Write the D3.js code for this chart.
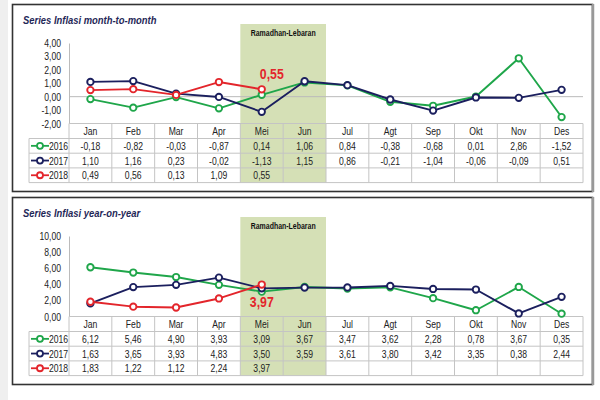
<!DOCTYPE html>
<html>
<head>
<meta charset="utf-8">
<script src="https://cdn.jsdelivr.net/npm/d3@7"></script>
<style>
  html, body { margin: 0; padding: 0; background: #fff; }
  svg text { font-family: "Liberation Sans", Arial, sans-serif; }
</style>
</head>
<body>
<svg id="chart" width="600" height="400"></svg>
<script>
const months = ["Jan","Feb","Mar","Apr","Mei","Jun","Jul","Agt","Sep","Okt","Nov","Des"];
const seriesNames = ["2016","2017","2018"];
const mtm2016 = [-0.18,-0.82,-0.03,-0.87,0.14,1.06,0.84,-0.38,-0.68,0.01,2.86,-1.52];
const mtm2017 = [1.10,1.16,0.23,-0.02,-1.13,1.15,0.86,-0.21,-1.04,-0.06,-0.09,0.51];
const mtm2018 = [0.49,0.56,0.13,1.09,0.55];
const yoy2016 = [6.12,5.46,4.90,3.93,3.09,3.67,3.47,3.62,2.28,0.78,3.67,0.35];
const yoy2017 = [1.63,3.65,3.93,4.83,3.50,3.59,3.61,3.80,3.42,3.35,0.38,2.44];
const yoy2018 = [1.83,1.22,1.12,2.24,3.97];
const mtmTicks = [-2,-1,0,1,2,3,4];
const yoyTicks = [0,2,4,6,8,10];
const shadeMonths = ["Mei","Jun"];
const shadeLabel = "Ramadhan-Lebaran";
const titles = ["Series Inflasi month-to-month", "Series Inflasi year-on-year"];

const colors = ["#1fa64a", "#1b1f5e", "#e3252b"];
const loc = d3.formatLocale({decimal: ",", thousands: ".", grouping: [3], currency: ["", ""], minus: "-"});
const fmt = loc.format(".2f");
const SX = 0.82; // narrow-font look

const svg = d3.select("#chart");
svg.append("rect").attr("x",0).attr("y",0).attr("width",600).attr("height",400).attr("fill","#fff");
svg.append("rect").attr("x",0).attr("y",0).attr("width",8).attr("height",400).attr("fill","#efefef");

const x = d3.scaleBand().domain(months).range([69, 583]).padding(0);

function txt(g, px, py, str, o) {
  o = o || {};
  return g.append("text")
    .attr("transform", `translate(${px},${py}) scale(${o.sx || SX},1)`)
    .attr("text-anchor", o.anchor || "start")
    .attr("font-size", o.size || 10)
    .attr("font-weight", o.weight || "normal")
    .attr("font-style", o.style || "normal")
    .attr("fill", o.fill || "#222")
    .text(str);
}

function panel(cfg) {
  const g = svg.append("g");
  const top = cfg.top;
  g.append("rect").attr("x",12.5).attr("y",top+0.5).attr("width",580).attr("height",187)
    .attr("fill","#fff").attr("stroke","#333").attr("stroke-width",1.6);
  g.append("line").attr("x1",593).attr("x2",593).attr("y1",top).attr("y2",top+188)
    .attr("stroke","#999").attr("stroke-width",2.5);

  const plotTop = top + 39, plotBot = top + 119.5;
  const y = d3.scaleLinear().domain(cfg.domain).range([plotBot, plotTop]);
  const headerH = 15, rowH = 14.7;
  const tableBot = plotBot + headerH + rowH*3;

  const sx0 = x(shadeMonths[0]), sx1 = x(shadeMonths[shadeMonths.length-1]) + x.bandwidth();
  g.append("rect").attr("x",sx0).attr("y",top+20).attr("width",sx1-sx0).attr("height",tableBot-(top+20))
    .attr("fill","#d5e0b6");
  txt(g, (sx0+sx1)/2, top+32, shadeLabel, {anchor:"middle", size:8.5, weight:"bold", fill:"#111"});

  txt(g, 23, top+20, cfg.title, {size:11.5, weight:"bold", style:"italic", fill:"#1f2757"});

  const yAxis = d3.axisLeft(y).tickValues(cfg.ticks).tickFormat(fmt).tickSize(0).tickPadding(0);
  const ax = g.append("g").attr("transform","translate(69,0)").call(yAxis);
  ax.select(".domain").attr("stroke","#bbb");
  ax.selectAll(".tick text").attr("x", null).attr("dy", null)
    .attr("transform", `translate(-8,3.5) scale(${SX},1)`)
    .attr("font-size",10.5).attr("fill","#222")
    .style("font-family",'"Liberation Sans",Arial,sans-serif');
  if (cfg.domain[0] < 0) {
    g.append("line").attr("x1",69).attr("x2",583).attr("y1",y(0)).attr("y2",y(0))
      .attr("stroke","#bbb").attr("stroke-width",1);
  }

  const tg = g.append("g");
  const lineC = "#c4c4c4";
  tg.append("line").attr("x1",69).attr("x2",583).attr("y1",plotBot).attr("y2",plotBot).attr("stroke",lineC);
  for (let r = 0; r <= 3; r++) {
    const yy = plotBot + headerH + r*rowH;
    tg.append("line").attr("x1",29).attr("x2",583).attr("y1",yy).attr("y2",yy).attr("stroke",lineC);
  }
  months.forEach(m => {
    tg.append("line").attr("x1",x(m)).attr("x2",x(m)).attr("y1",plotBot).attr("y2",tableBot).attr("stroke",lineC);
  });
  tg.append("line").attr("x1",583).attr("x2",583).attr("y1",plotBot).attr("y2",tableBot).attr("stroke",lineC);
  tg.append("line").attr("x1",29).attr("x2",29).attr("y1",plotBot+headerH).attr("y2",tableBot).attr("stroke",lineC);

  months.forEach(m => {
    txt(tg, x(m) + x.bandwidth()/2, plotBot + headerH/2 + 4, m, {anchor:"middle", size:10.5});
  });

  cfg.series.forEach((vals, si) => {
    const cy = plotBot + headerH + si*rowH + rowH/2;
    tg.append("line").attr("x1",31).attr("x2",49).attr("y1",cy).attr("y2",cy)
      .attr("stroke",colors[si]).attr("stroke-width",1.8);
    tg.append("circle").attr("cx",40).attr("cy",cy).attr("r",3).attr("fill","#fff")
      .attr("stroke",colors[si]).attr("stroke-width",1.8);
    txt(tg, 49, cy+4, seriesNames[si], {size:10.5});
    vals.forEach((d,i) => {
      txt(tg, x(months[i]) + x.bandwidth()/2, cy+4, fmt(d), {anchor:"middle", size:10.5});
    });
  });

  const line = d3.line().x((d,i) => x(months[i]) + x.bandwidth()/2).y(d => y(d));
  cfg.series.forEach((vals, si) => {
    g.append("path").datum(vals).attr("d", line).attr("fill","none")
      .attr("stroke",colors[si]).attr("stroke-width",1.9).attr("stroke-linejoin","round");
    g.selectAll("circle.p"+si).data(vals).enter().append("circle")
      .attr("cx",(d,i) => x(months[i]) + x.bandwidth()/2).attr("cy", d => y(d)).attr("r",3.2)
      .attr("fill","#fff").attr("stroke",colors[si]).attr("stroke-width",1.9);
  });

  const last = cfg.series[2];
  const li = last.length - 1;
  txt(g, x(months[li]) + x.bandwidth()/2 + cfg.labelDx, y(last[li]) + cfg.labelDy, fmt(last[li]),
      {anchor:"middle", size:15, weight:"bold", fill:"#e3252b"});
}

panel({top: 4, domain: [-2,4], ticks: mtmTicks, title: titles[0],
       series: [mtm2016, mtm2017, mtm2018], labelDx: 10, labelDy: -10});
panel({top: 197, domain: [0,10], ticks: yoyTicks, title: titles[1],
       series: [yoy2016, yoy2017, yoy2018], labelDx: 0, labelDy: 22});
</script>
</body>
</html>
